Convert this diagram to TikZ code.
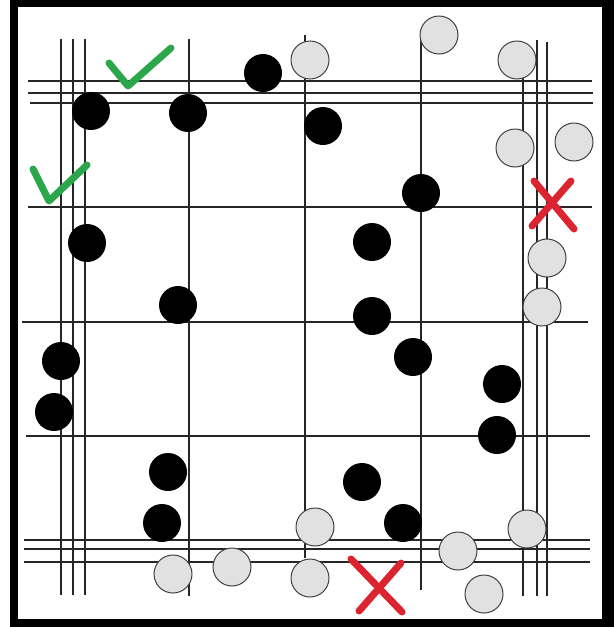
\documentclass[tikz,border=0pt]{standalone}
\definecolor{chk}{RGB}{44,166,74}
\definecolor{crs}{RGB}{220,36,48}
\definecolor{gfill}{RGB}{225,225,225}
\tikzset{
  blk/.style={circle, fill=black, minimum size=38pt, inner sep=0pt},
  gry/.style={circle, fill=gfill, draw=black!75, line width=1pt, minimum size=38pt, inner sep=0pt},
  gridline/.style={line width=1.7pt, black!85},
  tick/.style={line width=7pt, draw=chk, line cap=round, line join=round},
  crossline/.style={line width=7pt, draw=crs, line cap=round}
}
\begin{document}
\begin{tikzpicture}[x=1pt,y=-1pt]
\useasboundingbox (0,0) rectangle (614,627);
% frame
\fill[black] (10,0) rectangle (614,627);
\fill[white] (18,7) rectangle (602,619);
% vertical lines
\foreach \x in {61,73,85} \draw[gridline] (\x,39) -- (\x,595);
\draw[gridline] (189,39) -- (189,596);
\draw[gridline] (305,35) -- (305,558);
\draw[gridline] (421,40) -- (421,590);
\draw[gridline] (523,62) -- (523,596);
\draw[gridline] (537,40) -- (537,596);
\draw[gridline] (547,42) -- (547,596);
% horizontal lines
\draw[gridline] (28,81) -- (592,81);
\draw[gridline] (28,93) -- (593,93);
\draw[gridline] (30,103) -- (593,103);
\draw[gridline] (28,207) -- (592,207);
\draw[gridline] (22,322) -- (588,322);
\draw[gridline] (26,436) -- (590,436);
\draw[gridline] (24,540) -- (590,540);
\draw[gridline] (24,549) -- (590,549);
\draw[gridline] (24,562) -- (590,562);
% black circles
\node[blk] (b1) at (91,111) {};
\node[blk] (b2) at (188,113) {};
\node[blk] (b3) at (263,73) {};
\node[blk] (b4) at (323,126) {};
\node[blk] (b5) at (421,193) {};
\node[blk] (b6) at (87,243) {};
\node[blk] (b7) at (372,242) {};
\node[blk] (b8) at (178,305) {};
\node[blk] (b9) at (372,316) {};
\node[blk] (b10) at (61,361) {};
\node[blk] (b11) at (413,357) {};
\node[blk] (b12) at (54,412) {};
\node[blk] (b13) at (502,384) {};
\node[blk] (b14) at (497,435) {};
\node[blk] (b15) at (168,472) {};
\node[blk] (b16) at (362,482) {};
\node[blk] (b17) at (162,523) {};
\node[blk] (b18) at (403,523) {};
% grey circles
\node[gry] (g1) at (310,60) {};
\node[gry] (g2) at (439,35) {};
\node[gry] (g3) at (517,60) {};
\node[gry] (g4) at (515,148) {};
\node[gry] (g5) at (574,142) {};
\node[gry] (g6) at (547,258) {};
\node[gry] (g7) at (542,307) {};
\node[gry] (g8) at (173,574) {};
\node[gry] (g9) at (232,567) {};
\node[gry] (g10) at (315,527) {};
\node[gry] (g11) at (310,578) {};
\node[gry] (g12) at (458,551) {};
\node[gry] (g13) at (527,529) {};
\node[gry] (g14) at (484,594) {};
% check marks
\draw[tick] (109,63) -- (128,86) -- (171,48);
\draw[tick] (33,169) -- (49,201) -- (87,165);
% crosses
\draw[crossline] (534,181) -- (574,229);
\draw[crossline] (571,181) -- (532,226);
\draw[crossline] (351,559) -- (402,612);
\draw[crossline] (401,563) -- (359,611);
\end{tikzpicture}
\end{document}
